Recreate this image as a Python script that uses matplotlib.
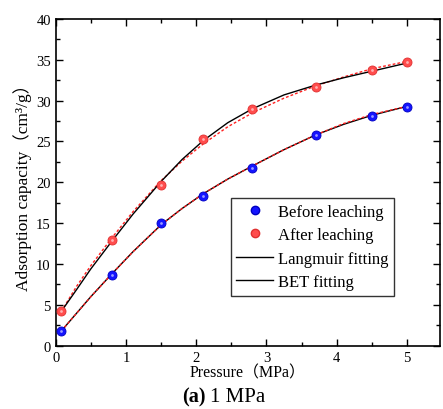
import matplotlib
matplotlib.use("Agg")
import matplotlib.pyplot as plt
from matplotlib.lines import Line2D
from matplotlib.ticker import MultipleLocator

plt.rcParams["font.family"] = ["Liberation Serif", "Noto Sans CJK SC"]

# measured points
pressure = [0.08, 0.8, 1.5, 2.1, 2.8, 3.7, 4.5, 5.0]
before = [1.76, 8.65, 15.05, 18.35, 21.8, 25.85, 28.15, 29.25]
after = [4.25, 12.95, 19.65, 25.3, 28.95, 31.7, 33.75, 34.7]

# fitted curves
p_fit = [0.08, 0.3, 0.5, 0.8, 1.1, 1.5, 1.8, 2.1, 2.45, 2.8, 3.25, 3.7, 4.1, 4.5, 5.0]
before_lang = [1.8, 4.0, 6.0, 8.8, 11.5, 14.8, 16.8, 18.6, 20.4, 22.0, 24.0, 25.8, 27.1, 28.2, 29.3]
before_bet = [1.8, 4.0, 6.0, 8.8, 11.5, 14.8, 16.8, 18.6, 20.4, 22.0, 24.0, 25.8, 27.2, 28.3, 29.3]
after_lang = [4.2, 6.9, 9.4, 12.8, 16.1, 20.1, 22.8, 25.1, 27.3, 29.0, 30.7, 31.9, 32.8, 33.6, 34.6]
after_bet = [4.2, 7.3, 9.8, 13.2, 16.4, 20.2, 22.6, 24.7, 26.8, 28.5, 30.3, 31.8, 32.9, 33.9, 34.8]

fig = plt.figure(figsize=(4.43, 4.10), dpi=100)
ax = fig.add_axes([0.1257, 0.1544, 0.8675, 0.797])

ax.plot(p_fit, after_bet, color="#ff2020", lw=1.0, ls=(0, (2, 1.5)))
ax.plot(p_fit, after_lang, color="black", lw=1.0)
ax.plot(p_fit, before_lang, color="black", lw=1.0)
ax.plot(p_fit, before_bet, color="#ff2020", lw=1.0, ls=(0, (2, 1.5)))

ax.plot(pressure, before, "o", ms=6.5, color="#1414ff", mec="#0000c0", mew=0.6, zorder=5)
ax.plot(pressure, after, "o", ms=6.5, color="#ff4d4d", mec="#e03030", mew=0.6, zorder=5)
# little highlight on the balls
ax.plot(pressure, before, "o", ms=2, color="#9a9aff", mew=0, zorder=6)
ax.plot(pressure, after, "o", ms=2, color="#ffb0b0", mew=0, zorder=6)

ax.set_xlim(0, 5.47)
ax.set_ylim(0, 40)
ax.xaxis.set_major_locator(MultipleLocator(1))
ax.xaxis.set_minor_locator(MultipleLocator(0.5))
ax.yaxis.set_major_locator(MultipleLocator(5))
ax.yaxis.set_minor_locator(MultipleLocator(2.5))
ax.tick_params(which="both", direction="in", top=True, right=True, labelsize=10.5, width=1.0)
ax.tick_params(which="major", length=5)
ax.tick_params(which="minor", length=3)
for s in ax.spines.values():
    s.set_linewidth(1.2)

ax.set_xlabel("Pressure（MPa）", fontsize=11.5, labelpad=1)
ax.set_ylabel("Adsorption capacity（cm³/g）", fontsize=12.5, labelpad=3)

handles = [
    Line2D([], [], ls="none", marker="o", ms=6, color="#1414ff", mec="#0000c0"),
    Line2D([], [], ls="none", marker="o", ms=6, color="#ff4d4d", mec="#e03030"),
    Line2D([], [], color="black", lw=1.0),
    Line2D([], [], color="black", lw=1.0),
]
labels = ["Before leaching", "After leaching", "Langmuir fitting", "BET fitting"]
leg = ax.legend(handles, labels, loc="upper left", bbox_to_anchor=(0.455, 0.452),
                fontsize=12, frameon=True, fancybox=False, edgecolor="black",
                handlelength=2.2, handletextpad=0.3, borderpad=0.35,
                labelspacing=0.45, borderaxespad=0)
leg.get_frame().set_linewidth(1.0)

fig.text(206 / 443, 0.03, "(a)", ha="right", va="center", fontsize=14.5, fontweight="bold")
fig.text(210 / 443, 0.03, "1 MPa", ha="left", va="center", fontsize=15)

fig.savefig("out.png", dpi=100)
